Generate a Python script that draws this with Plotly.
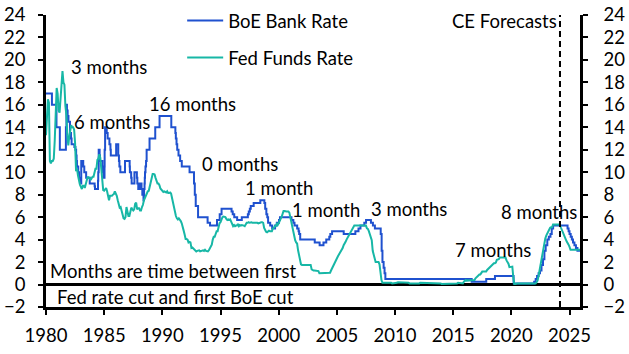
import plotly.graph_objects as go

# ---------------- DATA ----------------
# BoE Bank Rate: change dates (decimal year) and new rate (%) -- drawn as steps
boe_dates = [1980.00, 1980.51, 1980.90, 1981.19, 1981.71, 1981.76, 1981.80, 1981.86, 1981.93,
             1982.06, 1982.15, 1982.20, 1982.44, 1982.53, 1982.59, 1982.63, 1982.66, 1982.77, 1982.84, 1982.92,
             1983.03, 1983.20, 1983.29, 1983.45, 1983.76,
             1984.18, 1984.21, 1984.47, 1984.49, 1984.53, 1984.61, 1984.64, 1984.85, 1984.89, 1984.94,
             1985.03, 1985.04, 1985.08, 1985.22, 1985.30, 1985.45, 1985.54, 1985.57,
             1986.03, 1986.21, 1986.27, 1986.31, 1986.39, 1986.79,
             1987.19, 1987.21, 1987.32, 1987.36, 1987.60, 1987.81, 1987.85, 1987.93,
             1988.09, 1988.21, 1988.28, 1988.38, 1988.42, 1988.43, 1988.47, 1988.49, 1988.51, 1988.55,
             1988.60, 1988.65, 1988.90,
             1989.39, 1989.76, 1990.77,
             1991.12, 1991.16, 1991.22, 1991.28, 1991.39, 1991.53, 1991.67,
             1992.34, 1992.72, 1992.79, 1992.87,
             1993.07, 1993.89, 1994.10, 1994.70, 1994.93, 1995.09, 1995.95,
             1996.05, 1996.18, 1996.43, 1996.83,
             1997.35, 1997.43, 1997.52, 1997.60, 1997.85,
             1998.42, 1998.77, 1998.84, 1998.94,
             1999.02, 1999.09, 1999.27, 1999.44, 1999.69, 1999.84,
             2000.03, 2000.11,
             2001.10, 2001.26, 2001.36, 2001.59, 2001.71, 2001.76, 2001.85,
             2003.10, 2003.52, 2003.85,
             2004.09, 2004.35, 2004.44, 2004.59,
             2005.59, 2006.59, 2006.86,
             2007.03, 2007.36, 2007.51, 2007.93,
             2008.10, 2008.27, 2008.77, 2008.85, 2008.92,
             2009.02, 2009.10, 2009.17,
             2016.59, 2017.84, 2018.59,
             2020.19, 2020.21, 2021.96,
             2022.09, 2022.21, 2022.34, 2022.46, 2022.59, 2022.72, 2022.84, 2022.95,
             2023.09, 2023.22, 2023.36, 2023.47, 2023.59,
             2024.83, 2024.92, 2025.00, 2025.10, 2025.20, 2025.30, 2025.42, 2025.55, 2025.68, 2025.90]
boe_rates = [17, 16, 14, 12, 14, 16, 15.5, 15, 14.5,
             13.5, 13, 12.5, 12.25, 12, 11.5, 11, 10.5, 10, 9.5, 9,
             11, 10.5, 10, 9.5, 9,
             8.75, 8.5, 9.25, 10, 12, 11.5, 11, 10.5, 10, 9.5,
             10.5, 12, 14, 13.5, 13, 12.5, 12, 11.5,
             12.5, 11.5, 11, 10.5, 10, 11,
             10.5, 10, 9.5, 9, 10, 9.5, 9, 8.5,
             9, 8.5, 8, 7.5, 8, 8.5, 9, 9.5, 10, 10.5,
             11, 12, 13,
             14, 15, 14,
             13.5, 13, 12.5, 12, 11.5, 11, 10.5,
             10, 9, 8, 7,
             6, 5.5, 5.25, 5.75, 6.25, 6.75, 6.5,
             6.25, 6, 5.75, 6,
             6.25, 6.5, 6.75, 7, 7.25,
             7.5, 7.25, 6.75, 6.25,
             6, 5.5, 5.25, 5, 5.25, 5.5,
             5.75, 6,
             5.75, 5.5, 5.25, 5, 4.75, 4.5, 4,
             3.75, 3.5, 3.75,
             4, 4.25, 4.5, 4.75,
             4.5, 4.75, 5,
             5.25, 5.5, 5.75, 5.5,
             5.25, 5, 4.5, 3, 2,
             1.5, 1, 0.5,
             0.25, 0.5, 0.75,
             0.25, 0.1, 0.25,
             0.5, 0.75, 1, 1.25, 1.75, 2.25, 3, 3.5,
             4, 4.25, 4.5, 5, 5.25,
             5.0, 4.75, 4.5, 4.25, 4.0, 3.75, 3.5, 3.25, 3.0, 3.0]

# Fed Funds Rate: monthly values (%), Jan 1980 - Dec 2025 (2024 onwards = forecast)
fed_start_year = 1980
fed_monthly = [
    13.3, 14.5, 16.5, 16.2, 11.0, 10.8, 11.0, 11.0, 11.2, 12.8, 15.9, 17.5,   # 1980
    17.0, 15.5, 15.3, 16.5, 18.5, 19.0, 18.0, 17.8, 15.9, 15.1, 13.3, 12.4,   # 1981
    13.2, 14.0, 14.2, 14.0, 14.0, 13.8, 12.6, 10.1, 10.3, 9.7, 9.2, 8.9,      # 1982
    8.7, 8.5, 8.8, 8.8, 8.6, 9.0, 9.4, 9.6, 9.5, 9.5, 9.3, 9.5,               # 1983
    9.6, 9.6, 9.9, 10.3, 10.3, 11.1, 11.2, 11.6, 11.3, 10.0, 9.4, 8.4,        # 1984
    8.35, 8.5, 8.6, 8.3, 8.0, 7.5, 7.9, 7.9, 7.9, 8.0, 8.05, 8.3,             # 1985
    8.1, 7.9, 7.5, 7.0, 6.85, 6.9, 6.55, 6.2, 5.9, 5.85, 6.0, 6.9,            # 1986
    6.4, 6.1, 6.1, 6.4, 6.85, 6.7, 6.6, 6.7, 7.2, 7.3, 6.7, 6.8,              # 1987
    6.8, 6.6, 6.6, 6.9, 7.1, 7.5, 7.75, 8.0, 8.2, 8.3, 8.35, 8.75,            # 1988
    9.1, 9.35, 9.85, 9.85, 9.8, 9.5, 9.25, 9.0, 9.0, 8.85, 8.55, 8.45,        # 1989
    8.25, 8.25, 8.3, 8.25, 8.2, 8.3, 8.15, 8.15, 8.2, 8.1, 7.8, 7.3,          # 1990
    6.9, 6.25, 6.1, 5.9, 5.8, 5.9, 5.8, 5.65, 5.45, 5.2, 4.8, 4.45,           # 1991
    4.05, 4.05, 4.0, 3.75, 3.8, 3.75, 3.25, 3.3, 3.2, 3.1, 3.1, 2.95,         # 1992
    3.0, 3.0, 3.05, 2.95, 3.0, 3.05, 3.05, 3.0, 3.1, 3.0, 3.0, 2.95,          # 1993
    3.05, 3.25, 3.35, 3.55, 4.0, 4.25, 4.25, 4.45, 4.75, 4.75, 5.3, 5.45,     # 1994
    5.55, 5.9, 6.0, 6.05, 6.0, 6.0, 5.85, 5.75, 5.8, 5.75, 5.8, 5.6,          # 1995
    5.55, 5.2, 5.3, 5.2, 5.25, 5.25, 5.4, 5.2, 5.3, 5.25, 5.3, 5.3,           # 1996
    5.25, 5.2, 5.4, 5.5, 5.5, 5.55, 5.5, 5.55, 5.55, 5.5, 5.5, 5.5,           # 1997
    5.55, 5.5, 5.5, 5.45, 5.5, 5.55, 5.55, 5.55, 5.5, 5.05, 4.85, 4.7,        # 1998
    4.65, 4.75, 4.8, 4.75, 4.75, 4.75, 5.0, 5.05, 5.2, 5.2, 5.4, 5.3,         # 1999
    5.45, 5.75, 5.85, 6.0, 6.25, 6.55, 6.55, 6.5, 6.5, 6.5, 6.5, 6.4,         # 2000
    6.0, 5.5, 5.3, 4.8, 4.2, 3.95, 3.75, 3.65, 3.05, 2.5, 2.1, 1.8,           # 2001
    1.75, 1.75, 1.75, 1.75, 1.75, 1.75, 1.75, 1.75, 1.75, 1.75, 1.35, 1.25,   # 2002
    1.25, 1.25, 1.25, 1.25, 1.25, 1.2, 1.0, 1.0, 1.0, 1.0, 1.0, 1.0,          # 2003
    1.0, 1.0, 1.0, 1.0, 1.0, 1.05, 1.25, 1.45, 1.6, 1.75, 1.95, 2.15,         # 2004
    2.3, 2.5, 2.65, 2.8, 3.0, 3.05, 3.25, 3.5, 3.6, 3.8, 4.0, 4.15,           # 2005
    4.3, 4.5, 4.6, 4.8, 4.95, 5.0, 5.25, 5.25, 5.25, 5.25, 5.25, 5.25,        # 2006
    5.25, 5.25, 5.25, 5.25, 5.25, 5.25, 5.25, 5.0, 4.95, 4.75, 4.5, 4.25,     # 2007
    3.95, 3.0, 2.6, 2.3, 2.0, 2.0, 2.0, 2.0, 1.8, 1.0, 0.4, 0.15,             # 2008
    0.15, 0.2, 0.2, 0.15, 0.2, 0.2, 0.15, 0.15, 0.15, 0.1, 0.1, 0.1,          # 2009
    0.1, 0.15, 0.15, 0.2, 0.2, 0.2, 0.2, 0.2, 0.2, 0.2, 0.2, 0.2,             # 2010
    0.15, 0.15, 0.15, 0.1, 0.1, 0.1, 0.05, 0.1, 0.1, 0.05, 0.1, 0.05,         # 2011
    0.1, 0.1, 0.15, 0.15, 0.15, 0.15, 0.15, 0.15, 0.15, 0.15, 0.15, 0.15,     # 2012
    0.15, 0.15, 0.15, 0.15, 0.1, 0.1, 0.1, 0.1, 0.1, 0.1, 0.1, 0.1,           # 2013
    0.05, 0.05, 0.1, 0.1, 0.1, 0.1, 0.1, 0.1, 0.1, 0.1, 0.1, 0.1,             # 2014
    0.1, 0.1, 0.1, 0.1, 0.1, 0.15, 0.15, 0.15, 0.15, 0.1, 0.1, 0.25,          # 2015
    0.35, 0.4, 0.35, 0.35, 0.35, 0.4, 0.4, 0.4, 0.4, 0.4, 0.4, 0.55,          # 2016
    0.65, 0.65, 0.8, 0.9, 0.9, 1.05, 1.15, 1.15, 1.15, 1.15, 1.15, 1.3,       # 2017
    1.4, 1.4, 1.5, 1.7, 1.7, 1.8, 1.9, 1.9, 1.95, 2.2, 2.2, 2.25,             # 2018
    2.4, 2.4, 2.4, 2.4, 2.4, 2.4, 2.4, 2.15, 2.05, 1.85, 1.55, 1.55,          # 2019
    1.55, 1.6, 0.65, 0.05, 0.05, 0.1, 0.1, 0.1, 0.1, 0.1, 0.1, 0.1,           # 2020
    0.1, 0.1, 0.05, 0.05, 0.05, 0.1, 0.1, 0.1, 0.1, 0.1, 0.1, 0.1,            # 2021
    0.1, 0.1, 0.2, 0.35, 0.75, 1.2, 1.7, 2.35, 2.55, 3.1, 3.8, 4.1,           # 2022
    4.35, 4.55, 4.65, 4.85, 5.05, 5.1, 5.1, 5.35, 5.35, 5.35, 5.35, 5.35,     # 2023
    5.35, 5.35, 5.35, 5.1, 4.85, 4.6, 4.35, 4.3, 4.05, 3.85, 3.6, 3.55,       # 2024
    3.35, 3.1, 3.1, 3.1, 3.1, 3.1, 3.1, 3.1, 3.1, 3.1, 3.1, 3.1,              # 2025
]

# Annotations: (x year, y value, text)
notes = [
    (1982.0, 19.4, "3 months"),
    (1982.26, 14.43, "6 months"),
    (1988.7, 16.1, "16 months"),
    (1993.2, 10.7, "0 months"),
    (1996.95, 8.6, "1 month"),
    (2001.0, 6.68, "1 month"),
    (2007.8, 6.77, "3 months"),
    (2015.0, 3.1, "7 months"),
    (2018.9, 6.5, "8 months"),
]
forecast_start = 2024.18
x_ticks = [1980, 1985, 1990, 1995, 2000, 2005, 2010, 2015, 2020, 2025]
y_ticks = list(range(-2, 25, 2))

# ---------------- FIGURE ----------------
BLUE = "#1F51CF"
TEAL = "#17B7A6"
FONT = "Lato"
FS = 18.5

fed_x = [fed_start_year + i / 12 for i in range(len(fed_monthly))]

fig = go.Figure()
fig.add_trace(go.Scatter(x=boe_dates, y=boe_rates, mode="lines", name="BoE Bank Rate",
                         line=dict(color=BLUE, width=2, shape="hv"), legendgroup="a"))
fig.add_trace(go.Scatter(x=fed_x, y=fed_monthly, mode="lines", name="Fed Funds Rate",
                         line=dict(color=TEAL, width=2), legendgroup="b", yaxis="y2"))

axis_common = dict(range=[-2, 24], tickvals=y_ticks, showgrid=False, showline=True,
                   linecolor="black", linewidth=2.5, ticks="outside", ticklen=5,
                   tickwidth=2, tickcolor="black", tickfont=dict(family=FONT, size=FS, color="black"))

fig.update_layout(
    width=629, height=354,
    margin=dict(l=46, r=49, t=15, b=47, autoexpand=False),
    paper_bgcolor="white", plot_bgcolor="white",
    font=dict(family=FONT, size=FS, color="black"),
    xaxis=dict(range=[1980, 2025.9], tickvals=x_ticks, tickformat="d", showgrid=False,
               showline=True, linecolor="black", linewidth=2.5, ticks="outside", ticklen=5,
               tickwidth=2, tickcolor="black", zeroline=False, ticklabelstandoff=5,
               tickfont=dict(family=FONT, size=FS, color="black")),
    yaxis=dict(**axis_common, zeroline=True, zerolinecolor="black", zerolinewidth=2.5,
               ticklabelstandoff=9),
    yaxis2=dict(**axis_common, overlaying="y", side="right", zeroline=False,
                ticklabelstandoff=12),
    legend=dict(x=0.255, y=1.045, xanchor="left", yanchor="top", bgcolor="rgba(0,0,0,0)",
                font=dict(family=FONT, size=FS, color="black"), tracegroupgap=10,
                traceorder="grouped", itemwidth=36),
    showlegend=True,
)

for (xx, yy, tt) in notes:
    fig.add_annotation(x=xx, y=yy, text=tt, xref="x", yref="y", showarrow=False,
                       xanchor="left", yanchor="middle", font=dict(family=FONT, size=FS, color="black"))

fig.add_annotation(x=forecast_start - 0.05, y=23.5, text="CE Forecasts", xref="x", yref="y",
                   showarrow=False, xanchor="right", yanchor="middle",
                   font=dict(family=FONT, size=FS, color="black"))
fig.add_annotation(x=1980.17, y=1.25, text="Months are time between first", xref="x", yref="y",
                   showarrow=False, xanchor="left", yanchor="middle",
                   font=dict(family=FONT, size=FS, color="black"))
fig.add_annotation(x=1980.77, y=-1.07, text="Fed rate cut and first BoE cut", xref="x", yref="y",
                   showarrow=False, xanchor="left", yanchor="middle",
                   font=dict(family=FONT, size=FS, color="black"))

fig.add_shape(type="line", x0=forecast_start, x1=forecast_start, y0=0, y1=1,
              xref="x", yref="paper", line=dict(color="black", width=2, dash="6px,4px"))

fig.write_html("out.html")
